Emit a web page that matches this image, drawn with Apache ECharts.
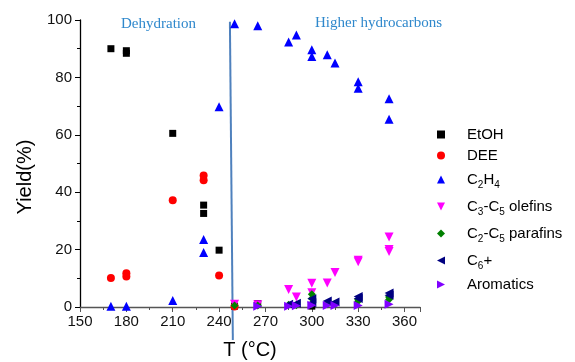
<!DOCTYPE html>
<html>
<head>
<meta charset="utf-8">
<script src="https://cdn.jsdelivr.net/npm/echarts@6/dist/echarts.min.js"></script>
<style>
  html, body { margin: 0; padding: 0; background: #fff; }
  #chart { width: 575px; height: 362px; }
</style>
</head>
<body>
<div id="chart"></div>
<script>
// [T (°C), yield %]
const etoh = [[170, 90], [180, 89.3], [180, 88.4], [210, 60.5], [230, 35.5], [230, 32.6], [240, 19.8], [250, 0.3], [265, 1.2], [300, 0.3]];
const dee = [[170, 10.1], [180, 11.8], [180, 10.6], [210, 37.2], [230, 45.8], [230, 44.2], [240, 11.0], [250, 0.2]];
const ethylene = [[170, 0.3], [180, 0.3], [210, 2.3], [230, 23.5], [230, 19], [240, 69.8], [250, 98.7], [265, 98],
  [285, 92.3], [290, 94.8], [300, 89.6], [300, 87.3], [310, 87.9], [315, 85], [330, 78.5], [330, 76.2], [350, 72.6], [350, 65.4]];
const olefins = [[250, 1.0], [265, 0.8], [285, 6.1], [290, 3.5], [300, 8.3], [300, 5.0], [310, 8.4], [315, 12],
  [330, 16.3], [330, 15.8], [350, 24.4], [350, 20], [350, 19.3]];
const parafins = [[250, 0.5], [265, 0.5], [285, 0.8], [290, 0.6], [300, 4.4], [300, 3.0], [300, 1.0], [310, 1.0],
  [315, 1.0], [330, 2.6], [330, 2.0], [350, 3.5], [350, 2.6]];
const c6plus = [[285, 1.0], [290, 1.3], [300, 2.9], [300, 1.5], [310, 2.1], [315, 1.7], [330, 3.7], [330, 3.0], [350, 4.9], [350, 4.1]];
const aromatics = [[265, 0.3], [285, 0.3], [290, 0.4], [300, 0.6], [310, 0.5], [315, 0.5], [330, 0.5], [350, 1.0]];
// separator between the two regimes
const divider = [[247, 99.4], [248.9, -11.5]];

const seriesNames = ["EtOH", "DEE", "C2H4", "C3-C5 olefins", "C2-C5 parafins", "C6+", "Aromatics"];
const legendLabels = {
  "EtOH": "{n|EtOH}",
  "DEE": "{n|DEE}",
  "C2H4": "{n|C}{s|2}{n|H}{s|4}",
  "C3-C5 olefins": "{n|C}{s|3}{n|-C}{s|5}{n| olefins}",
  "C2-C5 parafins": "{n|C}{s|2}{n|-C}{s|5}{n| parafins}",
  "C6+": "{n|C}{s|6}{n|+}",
  "Aromatics": "{n|Aromatics}",
};

// marker shapes (triangles pointing up / down / left / right)
const triUp = "path://M5,0 L10,10 L0,10 Z";
const triDown = "path://M0,0 L10,0 L5,10 Z";
const triLeft = "path://M10,0 L10,10 L0,5 Z";
const triRight = "path://M0,0 L10,5 L0,10 Z";
const symbols = {
  "EtOH": "rect",
  "DEE": "circle",
  "C2H4": triUp,
  "C3-C5 olefins": triDown,
  "C2-C5 parafins": "diamond",
  "C6+": triLeft,
  "Aromatics": triRight,
};

const FONT = "Liberation Sans, Arial, sans-serif";
const chart = echarts.init(document.getElementById("chart"));

function scatter(name, data, color, size) {
  return {
    name,
    type: "scatter",
    data,
    symbol: symbols[name],
    symbolSize: size,
    itemStyle: { color, opacity: 1 },
    z: 3,
  };
}

const option = {
  animation: false,
  backgroundColor: "#fff",
  textStyle: { fontFamily: FONT },
  grid: { left: 80, top: 20, right: 155, bottom: 55, outerBoundsMode: "none" },
  xAxis: {
    type: "value",
    min: 150,
    max: 370,
    interval: 30,
    name: "T (°C)",
    nameLocation: "middle",
    nameGap: 33,
    nameTextStyle: { fontSize: 20, color: "#000" },
    axisLine: { lineStyle: { color: "#555", width: 1.3 } },
    axisTick: { length: 5, lineStyle: { color: "#555" } },
    minorTick: { show: true, splitNumber: 2, length: 3, lineStyle: { color: "#555" } },
    axisLabel: { fontSize: 15, color: "#111", margin: 7, showMaxLabel: false },
    splitLine: { show: false },
  },
  yAxis: {
    type: "value",
    min: 0,
    max: 100,
    interval: 20,
    axisLine: { show: true, lineStyle: { color: "#000", width: 1.3 } },
    axisTick: { show: true, length: 5, lineStyle: { color: "#000" } },
    minorTick: { show: true, splitNumber: 2, length: 3, lineStyle: { color: "#000" } },
    axisLabel: { fontSize: 15, color: "#111", margin: 8 },
    splitLine: { show: false },
  },
  legend: {
    orient: "vertical",
    left: 432,
    top: 122,
    itemGap: 6,
    itemWidth: 8,
    itemHeight: 8,
    data: seriesNames.map((n) => ({ name: n, icon: symbols[n] })),
    formatter: (name) => legendLabels[name],
    textStyle: {
      padding: [0, 0, 0, 17],
      rich: {
        n: { fontSize: 15, color: "#000", fontFamily: FONT, lineHeight: 21 },
        s: { fontSize: 10, color: "#000", fontFamily: FONT, lineHeight: 10, padding: [11, 0, 0, 0] },
      },
    },
  },
  graphic: [
    { type: "text", left: 121, top: 17, style: { text: "Dehydration", fill: "#2f88cc", font: "15px 'Liberation Serif', 'Times New Roman', serif" } },
    { type: "text", left: 315, top: 16, style: { text: "Higher hydrocarbons", fill: "#2f88cc", font: "15px 'Liberation Serif', 'Times New Roman', serif" } },
    {
      type: "text", x: 25, y: 177, rotation: Math.PI / 2,
      style: { text: "Yield(%)", fill: "#000", font: "20px " + FONT, align: "center", verticalAlign: "middle" },
    },
  ],
  series: [
    {
      name: "divider",
      type: "line",
      data: divider,
      symbol: "none",
      clip: false,
      silent: true,
      lineStyle: { color: "#4f81bd", width: 2 },
      z: 1,
    },
    scatter("EtOH", etoh, "#000000", 7),
    scatter("DEE", dee, "#ff0000", 8),
    scatter("C2H4", ethylene, "#0000ff", 9),
    scatter("C3-C5 olefins", olefins, "#ff00ff", 9),
    scatter("C2-C5 parafins", parafins, "#008000", 8),
    scatter("C6+", c6plus, "#000080", 9),
    scatter("Aromatics", aromatics, "#8000ff", 9),
  ],
};

chart.setOption(option);
</script>
</body>
</html>
